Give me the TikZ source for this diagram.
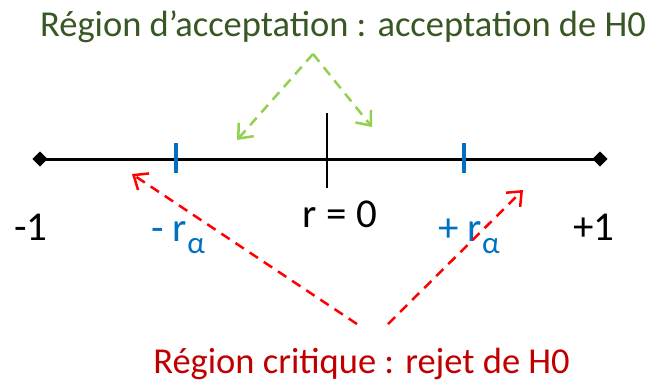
\documentclass[tikz,border=0pt]{standalone}
\usepackage{fontspec}
\setmainfont{Carlito}
\usetikzlibrary{arrows.meta,shapes.geometric}
\definecolor{txtgreen}{RGB}{56,87,35}
\definecolor{arrgreen}{RGB}{146,208,80}
\definecolor{tickblue}{RGB}{0,112,192}
\definecolor{txtred}{RGB}{192,0,0}
\definecolor{arrred}{RGB}{255,0,0}
\tikzset{
  endpt/.style={diamond, fill=black, draw=none, minimum size=15pt, inner sep=0pt},
  axisline/.style={line width=3pt},
  zerotick/.style={line width=1.5pt},
  btick/.style={tickblue, line width=4pt},
  numlab/.style={font=\fontsize{41}{44}\selectfont, anchor=base, inner sep=0pt},
  bluelab/.style={numlab, text=tickblue},
  title/.style={font=\fontsize{36.5}{40}\selectfont, anchor=base, inner sep=0pt},
  accarrow/.style={arrgreen, line width=2.5pt, dash pattern=on 10pt off 7pt, -{Straight Barb[length=12pt,width=20pt,line width=2.5pt]}},
  rejarrow/.style={arrred, line width=2.5pt, dash pattern=on 10pt off 7pt, -{Straight Barb[length=12pt,width=20pt,line width=2.5pt]}}
}
\newcommand{\ralpha}{r\raisebox{-0.3em}{\fontsize{31}{34}\selectfont α}}
\begin{document}
\begin{tikzpicture}[x=1pt,y=-1pt]
\useasboundingbox (0,0) rectangle (667,384);
% axis
\node[endpt] (L) at (40,159) {};
\node[endpt] (R) at (600,159) {};
\draw[axisline] (L.center) -- (R.center);
\node[endpt] at (40,159) {};
\node[endpt] at (600,159) {};
% ticks
\coordinate (z1) at (327,113);
\coordinate (z2) at (327,188);
\draw[zerotick] (z1) -- (z2);
\coordinate (bl1) at (176,143);
\coordinate (bl2) at (176,173);
\draw[btick] (bl1) -- (bl2);
\coordinate (br1) at (464,143);
\coordinate (br2) at (464,173);
\draw[btick] (br1) -- (br2);
% labels
\node[numlab] (m1) at (31,240) {-1};
\node[numlab] (p1) at (594,240) {+1};
\node[numlab] (r0) at (340,227) {r = 0};
\node[bluelab] (mr) at (178,241) {- \ralpha};
\node[bluelab] (pr) at (469,241) {+ \ralpha};
% titles
\node[title, text=txtgreen] (acc) at (343,36) {Région d’acceptation : acceptation de H0};
\node[title, text=txtred] (rej) at (361.5,373) {Région critique : rejet de H0};
% green arrows
\coordinate (ga) at (313,54);
\coordinate (gl) at (237,140);
\coordinate (gr) at (372,127);
\draw[accarrow] (ga) -- (gl);
\draw[accarrow] (ga) -- (gr);
% red arrows
\coordinate (ra) at (357,324);
\coordinate (rb) at (388,324);
\coordinate (rl) at (132,174);
\coordinate (rr) at (523,190);
\draw[rejarrow] (ra) -- (rl);
\draw[rejarrow] (rb) -- (rr);
\end{tikzpicture}
\end{document}
